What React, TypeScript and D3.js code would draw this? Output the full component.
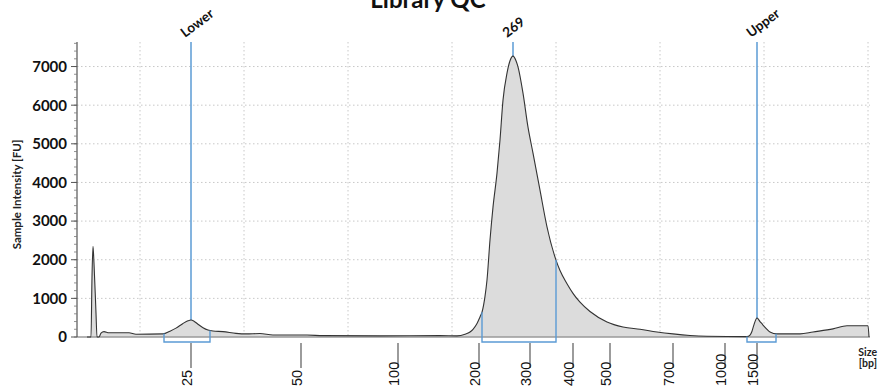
import React from 'react';
import * as d3 from 'd3';

// Electropherogram trace: migration time [s] vs sample intensity [FU]
const migrationTime = [
  1.0, 1.4, 1.5, 1.6, 1.7, 1.9, 2.0, 2.2, 2.4, 2.7, 3.2, 5.2, 5.9, 8.6, 9.3, 9.9,
  10.6, 11.1, 11.4, 11.7, 12.1, 12.6, 13.1, 13.6, 14.6, 15.9, 16.9, 18.3, 19.6,
  23.0, 24.6, 30.3, 36.3, 38.0, 38.8, 39.3, 39.6, 40.0, 40.3, 40.5, 40.8, 41.0,
  41.3, 41.6, 42.0, 42.3, 42.6, 43.0, 43.3, 43.6, 43.9, 44.1, 44.6, 45.1, 45.6,
  46.3, 47.0, 47.9, 48.3, 49.0, 49.6, 50.3, 51.3, 53.0, 54.6, 56.3, 58.0, 59.6,
  61.3, 63.0, 67.0, 67.3, 67.5, 67.7, 68.0, 68.3, 68.6, 69.0, 69.3, 70.0, 72.3,
  73.6, 75.6, 77.0, 79.1, 79.2,
];
const intensity = [
  0, 0, 1550, 2350, 1900, 620, 0, 0, 100, 140, 110, 110, 70, 80, 150, 230,
  350, 420, 440, 410, 330, 240, 180, 155, 140, 95, 80, 90, 50,
  50, 35, 30, 35, 30, 70, 130, 200, 350, 520, 640, 1050, 1475,
  2510, 3360, 4240, 5100, 6130, 6830, 7150, 7270, 7150, 6990, 6310, 5430, 4760,
  3800, 2850, 1990, 1720, 1380, 1130, 900, 660, 390, 260, 200, 130, 80,
  40, 20, 10, 50, 150, 320, 490, 400, 310, 200, 130, 80, 80,
  130, 210, 290, 290, 0,
];

const ladderSizes = ['25', '50', '100', '200', '300', '400', '500', '700', '1000', '1500'];
const ladderTimes = [11.4, 22.4, 32.1, 40.2, 45.3, 49.6, 53.3, 59.6, 64.8, 68.0];

const yTickValues = [0, 1000, 2000, 3000, 4000, 5000, 6000, 7000];
const gridTimes = [6.3, 16.7, 27.1, 37.5, 47.9, 58.3, 68.7, 79.1];

const peakLabels = ['Lower', '269', 'Upper'];
const peakTimes = [11.4, 43.6, 68.0];
const regionStarts = [8.7, 40.5, 67.0];
const regionEnds = [13.3, 47.9, 69.9];

const W = 878;
const H = 387;
const blue = '#5b9bd5';

export default function App() {
  const x = d3.scaleLinear().domain([0, 79.3]).range([77, 870]);
  const y = d3.scaleLinear().domain([0, 7635]).range([337, 42]);
  const data = migrationTime.map((t, i) => ({ t, v: intensity[i] }));

  const area = d3
    .area<{ t: number; v: number }>()
    .x((d) => x(d.t))
    .y0(y(0))
    .y1((d) => y(d.v))
    .curve(d3.curveMonotoneX);
  const line = d3
    .line<{ t: number; v: number }>()
    .x((d) => x(d.t))
    .y((d) => y(d.v))
    .curve(d3.curveMonotoneX);

  const bis = d3.bisector((d: { t: number }) => d.t).left;
  const valueAt = (t: number) => {
    const i = bis(data, t);
    if (i <= 0) return data[0].v;
    if (i >= data.length) return data[data.length - 1].v;
    const a = data[i - 1];
    const b = data[i];
    const f = (t - a.t) / (b.t - a.t);
    return a.v + (b.v - a.v) * f;
  };

  const minorTicks = d3.range(0, 7601, 200);
  const [x0, x1] = x.range();
  const baseY = y(0);
  const topY = y.range()[1];
  const bracketBottom = baseY + 5;

  return (
    <svg
      width={W}
      height={H}
      style={{ position: 'absolute', left: 0, top: 0, background: '#fff' }}
      fontFamily="Lato, 'Open Sans', sans-serif"
    >
      {/* title */}
      <text x={428} y={8} textAnchor="middle" fontSize={24} fontWeight={700} fill="#111">
        Library QC
      </text>

      {/* grid */}
      <g stroke="#c8c8c8" strokeWidth={1} strokeDasharray="1.5,2.5">
        {yTickValues.slice(1).map((v) => (
          <line key={'h' + v} x1={x0} x2={x1} y1={y(v)} y2={y(v)} />
        ))}
        {gridTimes.map((t) => (
          <line key={'v' + t} x1={x(t)} x2={x(t)} y1={topY} y2={baseY} />
        ))}
      </g>

      {/* peak marker lines (behind trace) */}
      {peakTimes.map((t, i) => (
        <line key={'m' + i} x1={x(t)} x2={x(t)} y1={topY} y2={baseY} stroke={blue} strokeWidth={1.5} />
      ))}

      {/* trace */}
      <path d={area(data) || ''} fill="#dcdcdc" stroke="none" />
      <line x1={x0} x2={x1} y1={baseY} y2={baseY} stroke="#9a9a9a" strokeWidth={1.5} />
      <path d={line(data) || ''} fill="none" stroke="#333" strokeWidth={1.1} />

      {/* region brackets */}
      {regionStarts.map((s, i) => {
        const e = regionEnds[i];
        const xs = x(s);
        const xe = x(e);
        return (
          <path
            key={'b' + i}
            d={`M${xs},${y(valueAt(s))}V${bracketBottom}H${xe}V${y(valueAt(e))}`}
            fill="none"
            stroke={blue}
            strokeWidth={1.4}
          />
        );
      })}

      {/* peak labels */}
      {peakTimes.map((t, i) => (
        <text
          key={'pl' + i}
          transform={`translate(${x(t) - 6},${topY - 4}) rotate(-37)`}
          fontSize={13.5}
          fontWeight={700}
          fill="#111"
        >
          {peakLabels[i]}
        </text>
      ))}

      {/* y axis */}
      <line x1={x0} x2={x0} y1={topY} y2={baseY} stroke="#555" strokeWidth={1.2} />
      {minorTicks.map((v) => (
        <line key={'mt' + v} x1={x0 - 3} x2={x0} y1={y(v)} y2={y(v)} stroke="#777" strokeWidth={0.8} />
      ))}
      {yTickValues.map((v) => (
        <g key={'yt' + v}>
          <line x1={x0 - 6} x2={x0} y1={y(v)} y2={y(v)} stroke="#555" strokeWidth={1} />
          <text x={x0 - 10} y={y(v)} dy="0.36em" textAnchor="end" fontSize={15} fontWeight={700} fill="#111">
            {v}
          </text>
        </g>
      ))}
      <text
        transform={`translate(21,${(y.range()[0] + topY) / 2 + 5}) rotate(-90)`}
        textAnchor="middle"
        fontSize={11.5}
        fontWeight={700}
        fill="#222"
      >
        Sample Intensity [FU]
      </text>

      {/* x ladder ticks */}
      {ladderTimes.map((t, i) => (
        <g key={'xt' + i}>
          <line x1={x(t)} x2={x(t)} y1={baseY + 6} y2={baseY + 31} stroke="#666" strokeWidth={1.3} />
          <text
            transform={`translate(${x(t) + 1},386) rotate(-90)`}
            fontSize={14.5}
            fontFamily="'Liberation Sans', Arial, sans-serif"
            fill="#111"
          >
            {ladderSizes[i]}
          </text>
        </g>
      ))}
      <text x={877} y={356} textAnchor="end" fontSize={10.5} fontWeight={700} fill="#222">
        Size
      </text>
      <text x={877} y={367} textAnchor="end" fontSize={10.5} fontWeight={700} fill="#222">
        [bp]
      </text>
    </svg>
  );
}
